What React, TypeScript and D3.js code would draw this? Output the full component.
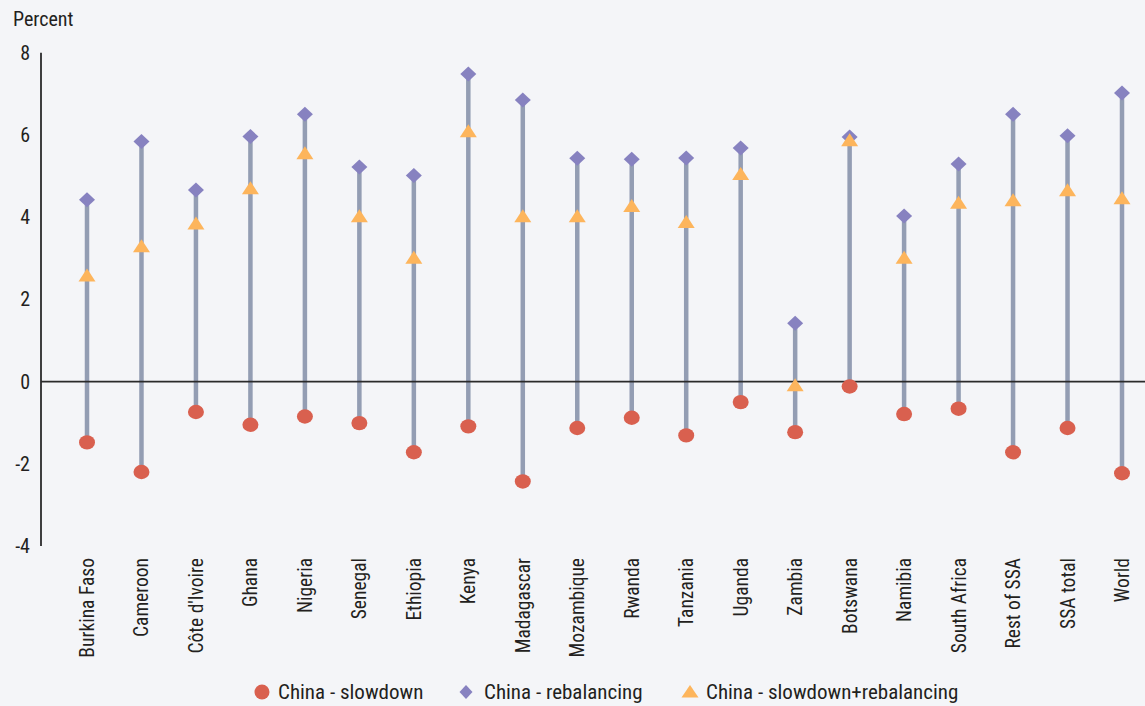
import { useEffect, useRef } from 'react';
import * as d3 from 'd3';

const countries = [
  'Burkina Faso',
  'Cameroon',
  "Côte d'Ivoire",
  'Ghana',
  'Nigeria',
  'Senegal',
  'Ethiopia',
  'Kenya',
  'Madagascar',
  'Mozambique',
  'Rwanda',
  'Tanzania',
  'Uganda',
  'Zambia',
  'Botswana',
  'Namibia',
  'South Africa',
  'Rest of SSA',
  'SSA total',
  'World'
];

const slowdown = [
  -1.48, -2.2, -0.74, -1.05, -0.85, -1.01, -1.72, -1.09, -2.43, -1.13, -0.88, -1.31, -0.5, -1.23, -0.12, -0.79, -0.66,
  -1.72, -1.13, -2.23
];
const rebalancing = [
  4.42, 5.84, 4.66, 5.96, 6.5, 5.22, 5.01, 7.48, 6.85, 5.43, 5.41, 5.44, 5.68, 1.42, 5.95, 4.03, 5.29, 6.5, 5.98, 7.02
];
const combined = [
  2.57, 3.28, 3.83, 4.69, 5.54, 4.01, 3.0, 6.08, 4.01, 4.01, 4.26, 3.87, 5.04, -0.1, 5.86, 3.0, 4.34, 4.4, 4.64, 4.45
];

const yTicks = [-4, -2, 0, 2, 4, 6, 8];

const legendItems = [
  { label: 'China - slowdown', shape: 'circle' },
  { label: 'China - rebalancing', shape: 'diamond' },
  { label: 'China - slowdown+rebalancing', shape: 'triangle' }
];

const COLORS = {
  circle: '#d9604f',
  diamond: '#8782c0',
  triangle: '#fdb55c',
  stem: '#939db3',
  axis: '#2b2b2b',
  text: '#231f20',
  bg: '#f4f5f8'
};

const FONT = '"Liberation Sans Narrow", "Roboto Condensed", "Open Sans", sans-serif';

const width = 1145;
const height = 706;

const App = (): JSX.Element => {
  const svgRef = useRef<SVGSVGElement>(null);

  useEffect(() => {
    if (!svgRef.current) return;
    svgRef.current.innerHTML = '';

    const svg = d3
      .select(svgRef.current)
      .attr('width', width)
      .attr('height', height)
      .attr('viewBox', [0, 0, width, height])
      .style('font-family', FONT);

    svg.append('rect').attr('width', width).attr('height', height).attr('fill', COLORS.bg);

    const axisX = 41;
    const x = d3.scalePoint<string>().domain(countries).range([87, 1122]);
    const y = d3.scaleLinear().domain([-4, 8]).range([546, 52.7]);

    // y axis line
    svg
      .append('line')
      .attr('x1', axisX)
      .attr('x2', axisX)
      .attr('y1', y(8))
      .attr('y2', y(-4))
      .attr('stroke', COLORS.axis)
      .attr('stroke-width', 1.8);

    // tick labels
    svg
      .append('g')
      .selectAll('text')
      .data(yTicks)
      .join('text')
      .attr('x', 30)
      .attr('y', (d) => y(d))
      .attr('dy', '0.35em')
      .attr('text-anchor', 'end')
      .attr('font-size', 20)
      .attr('fill', COLORS.text)
      .text((d) => d);

    svg
      .append('text')
      .attr('x', 13)
      .attr('y', 26)
      .attr('font-size', 20)
      .attr('fill', COLORS.text)
      .text('Percent');

    // stems
    svg
      .append('g')
      .selectAll('line')
      .data(countries)
      .join('line')
      .attr('x1', (d) => x(d)!)
      .attr('x2', (d) => x(d)!)
      .attr('y1', (_, i) => y(Math.max(slowdown[i], rebalancing[i], combined[i])))
      .attr('y2', (_, i) => y(Math.min(slowdown[i], rebalancing[i], combined[i])))
      .attr('stroke', COLORS.stem)
      .attr('stroke-width', 4.5);

    // zero line
    svg
      .append('line')
      .attr('x1', axisX)
      .attr('x2', width)
      .attr('y1', y(0))
      .attr('y2', y(0))
      .attr('stroke', COLORS.axis)
      .attr('stroke-width', 1.8);

    const diamondPath = 'M0,-7.5L8,0L0,7.5L-8,0Z';
    const trianglePath = 'M0,-7.5L8.5,5.5L-8.5,5.5Z';

    svg
      .append('g')
      .selectAll('path')
      .data(countries)
      .join('path')
      .attr('transform', (d, i) => `translate(${x(d)},${y(rebalancing[i])})`)
      .attr('d', diamondPath)
      .attr('fill', COLORS.diamond);

    svg
      .append('g')
      .selectAll('path')
      .data(countries)
      .join('path')
      .attr('transform', (d, i) => `translate(${x(d)},${y(combined[i])})`)
      .attr('d', trianglePath)
      .attr('fill', COLORS.triangle);

    svg
      .append('g')
      .selectAll('ellipse')
      .data(countries)
      .join('ellipse')
      .attr('cx', (d) => x(d)!)
      .attr('cy', (_, i) => y(slowdown[i]))
      .attr('rx', 8)
      .attr('ry', 7.2)
      .attr('fill', COLORS.circle);

    // category labels
    svg
      .append('g')
      .selectAll('text')
      .data(countries)
      .join('text')
      .attr('transform', (d) => `translate(${x(d)! + 7},558) rotate(-90)`)
      .attr('text-anchor', 'end')
      .attr('font-size', 19.5)
      .attr('fill', COLORS.text)
      .text((d) => d);

    // legend
    const legendX = [262, 466, 690];
    const legend = svg
      .append('g')
      .selectAll('g')
      .data(legendItems)
      .join('g')
      .attr('transform', (_, i) => `translate(${legendX[i]},692)`);

    legend.each(function (d) {
      const g = d3.select(this);
      if (d.shape === 'circle') {
        g.append('ellipse').attr('rx', 7.5).attr('ry', 7.5).attr('fill', COLORS.circle);
      } else if (d.shape === 'diamond') {
        g.append('path').attr('d', 'M0,-7L6.5,0L0,7L-6.5,0Z').attr('fill', COLORS.diamond);
      } else {
        g.append('path').attr('d', 'M0,-7L8.5,5.5L-8.5,5.5Z').attr('fill', COLORS.triangle);
      }
    });

    legend
      .append('text')
      .attr('x', (d) => (d.shape === 'diamond' ? 18 : 16))
      .attr('dy', '0.35em')
      .attr('font-size', 21)
      .attr('fill', COLORS.text)
      .text((d) => d.label);
  }, []);

  return (
    <div style={{ position: 'absolute', top: 0, left: 0 }}>
      <svg ref={svgRef} style={{ display: 'block' }} />
    </div>
  );
};

export default App;
